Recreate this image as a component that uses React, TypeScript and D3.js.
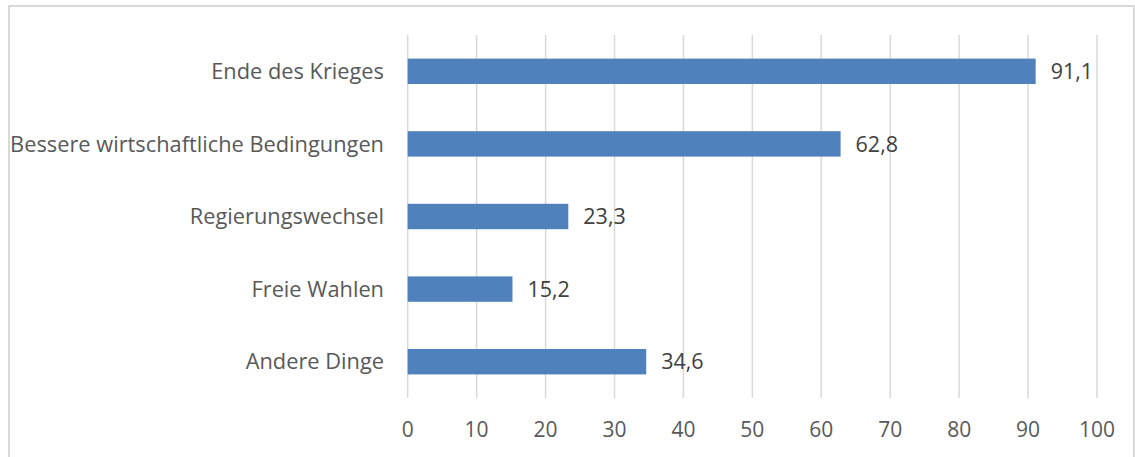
import React from "react";
import * as d3 from "d3";

const categories = [
  "Ende des Krieges",
  "Bessere wirtschaftliche Bedingungen",
  "Regierungswechsel",
  "Freie Wahlen",
  "Andere Dinge",
];
const values = [91.1, 62.8, 23.3, 15.2, 34.6];
const ticks = [0, 10, 20, 30, 40, 50, 60, 70, 80, 90, 100];

const W = 1135;
const H = 457;
const FONT = "'Open Sans', sans-serif";

export default function App() {
  const x = d3.scaleLinear().domain([0, 100]).range([407.7, 1097]);
  const y = d3.scaleBand<string>().domain(categories).range([35, 398]).paddingInner(0.65).paddingOuter(0.325);
  const fmt = (v: number) => v.toFixed(1).replace(".", ",");
  return (
    <svg width={W} height={H} style={{ position: "absolute", left: 0, top: 0, background: "#fff" }}>
      <rect x={9} y={6} width={1125} height={470} fill="#fff" stroke="#d9d9d9" strokeWidth={2} />
      {ticks.map((t) => (
        <g key={t}>
          <line x1={x(t)} x2={x(t)} y1={35} y2={398} stroke="#d9d9d9" strokeWidth={1.5} />
          <text x={x(t)} y={437} textAnchor="middle" fontFamily={FONT} fontSize={21} fill="#595959">
            {t}
          </text>
        </g>
      ))}
      {categories.map((c, i) => {
        const yy = y(c)!;
        const bw = y.bandwidth();
        return (
          <g key={c}>
            <rect x={x(0)} y={yy} width={x(values[i]) - x(0)} height={bw} fill="#4f81bd" />
            <text x={384} y={yy + bw / 2} dy="0.35em" textAnchor="end" fontFamily={FONT} fontSize={21.8} fill="#595959">
              {c}
            </text>
            <text x={x(values[i]) + 15} y={yy + bw / 2} dy="0.36em" textAnchor="start" fontFamily={FONT} fontSize={21.5} fill="#404040">
              {fmt(values[i])}
            </text>
          </g>
        );
      })}
    </svg>
  );
}
